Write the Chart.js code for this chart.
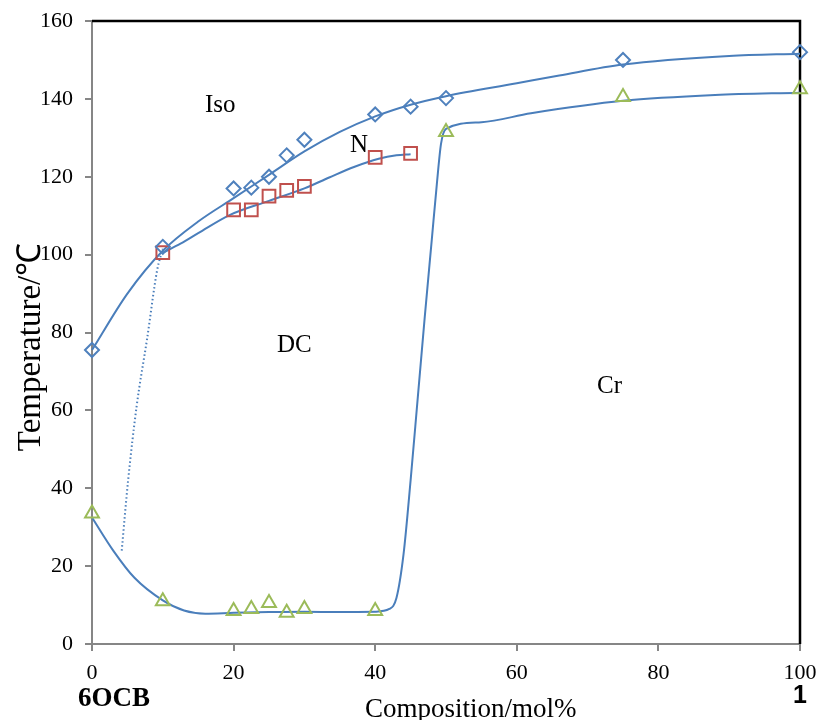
<!DOCTYPE html>
<html>
<head>
<meta charset="utf-8">
<title>6OCB phase diagram</title>
<script src="https://cdn.jsdelivr.net/npm/chart.js@4.4.1/dist/chart.umd.min.js"></script>
<style>
  html, body { margin: 0; padding: 0; background: #fff; }
  #wrap { width: 820px; height: 720px; }
</style>
</head>
<body>
<div id="wrap"><canvas id="phase" width="820" height="720"></canvas></div>
<script>
// measured transition points (composition mol%, temperature °C)
const isoX = [0, 10, 20, 22.5, 25, 27.5, 30, 40, 45, 50, 75, 100];
const isoT = [75.5, 102, 117, 117.2, 120, 125.5, 129.5, 136, 138, 140.2, 150, 152];
const nemX = [10, 20, 22.5, 25, 27.5, 30, 40, 45];
const nemT = [100.5, 111.5, 111.5, 115, 116.5, 117.5, 125, 126];
const crX = [0, 10, 20, 22.5, 25, 27.5, 30, 40, 50, 75, 100];
const crT = [33.5, 11, 8.5, 9, 10.5, 8, 9, 8.5, 131.5, 140.5, 142.5];

// hand-drawn phase boundaries
const isoLineX = [0, 5, 10, 15, 20, 25, 30, 35, 40, 45, 50, 60, 66, 75, 90, 100];
const isoLineT = [75.5, 90, 101, 108.5, 114.5, 120.5, 126.5, 131.5, 135.5, 138.5, 140.7, 144, 146, 148.8, 151, 151.6];
const nemLineX = [10, 12.5, 15, 19.5, 25, 30, 33.5, 37, 40.5, 43, 45];
const nemLineT = [100.5, 102.8, 105.5, 110.2, 113.8, 117, 119.8, 122.5, 124.6, 125.5, 125.8];
const crLineX = [0, 3, 6, 10, 13, 16, 20, 25, 30, 35, 40, 42, 43, 44, 45, 46, 47, 48, 48.7, 49.3, 50, 55, 62, 75, 88, 100];
const crLineT = [32.5, 24, 17, 11.2, 8.6, 7.8, 8, 8.2, 8.3, 8.2, 8.3, 9.0, 11.8, 23, 42, 63, 84, 104, 118, 128.5, 132.3, 134.0, 136.3, 139.5, 141.0, 141.6];
const dcLineX = [4.2, 5.1, 6.3, 7.8, 9.2, 10];
const dcLineT = [24, 42, 61, 78.6, 96, 101.5];

const xTicks = [0, 20, 40, 60, 80, 100];
const yTicks = [0, 20, 40, 60, 80, 100, 120, 140, 160];

const serif = "'Liberation Serif', 'Times New Roman', serif";
const blue = '#4A7EBB';
const axisGray = '#868686';

function pts(xs, ys) {
    return xs.map((x, i) => ({ x: x, y: ys[i] }));
}

function markerSet(label, xs, ys, style, radius, color) {
    return {
        label: label,
        data: pts(xs, ys),
        showLine: false,
        pointStyle: style,
        pointRadius: radius,
        pointHoverRadius: radius,
        pointBorderWidth: 2,
        pointBorderColor: color,
        pointBackgroundColor: 'rgba(0,0,0,0)',
        clip: false,
    };
}

function curveSet(label, xs, ys, dash) {
    return {
        label: label,
        data: pts(xs, ys),
        showLine: true,
        pointRadius: 0,
        borderColor: blue,
        borderWidth: 2,
        borderDash: dash || [],
        cubicInterpolationMode: 'monotone',
        clip: false,
    };
}

// black frame on top and right, plus the region labels
const frameAndLabels = {
    id: 'frameAndLabels',
    beforeDatasetsDraw(chart) {
        const { ctx, chartArea: a } = chart;
        ctx.save();
        ctx.strokeStyle = '#000';
        ctx.lineWidth = 2.5;
        ctx.beginPath();
        ctx.moveTo(a.left, a.top);
        ctx.lineTo(a.right, a.top);
        ctx.lineTo(a.right, a.bottom);
        ctx.stroke();
        ctx.restore();
    },
    afterDraw(chart) {
        const ctx = chart.ctx;
        ctx.save();
        ctx.fillStyle = '#000';
        ctx.textBaseline = 'alphabetic';
        ctx.textAlign = 'left';
        ctx.font = '25px ' + serif;
        ctx.fillText('Iso', 205, 112);
        ctx.fillText('N', 350, 152);
        ctx.fillText('DC', 277, 352);
        ctx.fillText('Cr', 597, 393);

        ctx.font = '27px ' + serif;
        ctx.fillText('Composition/mol%', 365, 717);

        ctx.font = 'bold 27px ' + serif;
        ctx.fillText('6OCB', 78, 706);
        ctx.textAlign = 'center';
        ctx.font = "bold 25px 'Liberation Sans', Arial, sans-serif";
        ctx.fillText('1', 800, 703);

        ctx.translate(31, 347);
        ctx.rotate(-Math.PI / 2);
        ctx.textBaseline = 'middle';
        ctx.font = '33px ' + serif;
        ctx.fillText('Temperature/℃', 0, 0);
        ctx.restore();
    },
};

new Chart(document.getElementById('phase'), {
    type: 'scatter',
    data: {
        datasets: [
            markerSet('Iso', isoX, isoT, 'rectRot', 7, '#4F81BD'),
            markerSet('N', nemX, nemT, 'rect', 9, '#C0504D'),
            markerSet('Cr', crX, crT, 'triangle', 8, '#9BBB59'),
            curveSet('Iso-N', isoLineX, isoLineT),
            curveSet('N-DC', nemLineX, nemLineT),
            curveSet('Cr', crLineX, crLineT),
            curveSet('DC', dcLineX, dcLineT, [1.5, 2.5]),
        ],
    },
    options: {
        responsive: false,
        animation: false,
        layout: { padding: { top: 21, right: 20, left: 0, bottom: 0 } },
        plugins: {
            legend: { display: false },
            tooltip: { enabled: false },
        },
        scales: {
            x: {
                type: 'linear',
                min: 0,
                max: 100,
                afterBuildTicks(scale) {
                    scale.ticks = xTicks.map(v => ({ value: v }));
                },
                afterFit(scale) {
                    scale.height = 76;
                    scale.paddingLeft = 0;
                    scale.paddingRight = 0;
                },
                grid: {
                    display: true,
                    drawOnChartArea: false,
                    drawTicks: true,
                    tickLength: 7,
                    tickColor: axisGray,
                    lineWidth: 2,
                },
                border: { color: axisGray, width: 2 },
                ticks: {
                    color: '#000',
                    padding: 9,
                    maxRotation: 0,
                    font: { family: serif, size: 22 },
                },
            },
            y: {
                type: 'linear',
                min: 0,
                max: 160,
                afterBuildTicks(scale) {
                    scale.ticks = yTicks.map(v => ({ value: v }));
                },
                afterFit(scale) {
                    scale.width = 92;
                    scale.paddingTop = 0;
                    scale.paddingBottom = 0;
                },
                grid: {
                    display: true,
                    drawOnChartArea: false,
                    drawTicks: true,
                    tickLength: 7,
                    tickColor: axisGray,
                    lineWidth: 2,
                },
                border: { color: axisGray, width: 2 },
                ticks: {
                    color: '#000',
                    padding: 12,
                    font: { family: serif, size: 22 },
                },
            },
        },
    },
    plugins: [frameAndLabels],
});
</script>
</body>
</html>
